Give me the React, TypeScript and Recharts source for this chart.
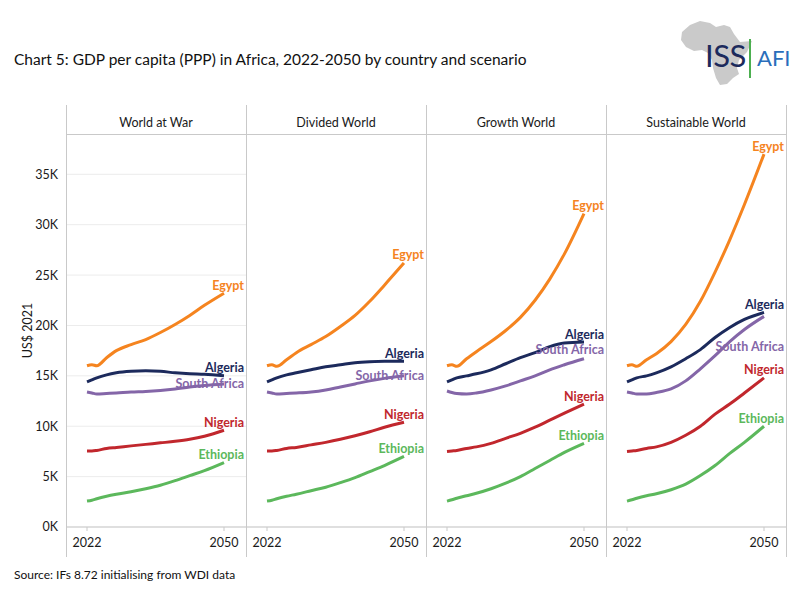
import { LineChart, Line, XAxis, YAxis, CartesianGrid, LabelList } from 'recharts';

const years = [2022, 2023, 2024, 2026, 2028, 2031, 2034, 2037, 2040, 2043, 2046, 2050];
const scenarios = ['World at War', 'Divided World', 'Growth World', 'Sustainable World'];
const countries = ['Egypt', 'Algeria', 'South Africa', 'Nigeria', 'Ethiopia'];
const yTicks = [0, 5000, 10000, 15000, 20000, 25000, 30000, 35000];
const xTicks = [2022, 2050];

// GDP per capita, thousand US$ 2021 (PPP)
const warEgypt = [16.0, 16.1, 16.0, 16.8, 17.5, 18.1, 18.6, 19.3, 20.1, 21.0, 22.0, 23.2];
const warAlgeria = [14.4, 14.6, 14.8, 15.1, 15.3, 15.45, 15.5, 15.45, 15.3, 15.2, 15.15, 15.0];
const warSouthAfrica = [13.4, 13.3, 13.2, 13.25, 13.3, 13.4, 13.45, 13.55, 13.7, 13.9, 14.05, 14.2];
const warNigeria = [7.55, 7.55, 7.6, 7.8, 7.9, 8.05, 8.2, 8.35, 8.5, 8.7, 9.0, 9.6];
const warEthiopia = [2.57, 2.65, 2.8, 3.05, 3.25, 3.5, 3.8, 4.15, 4.6, 5.1, 5.6, 6.4];

const dividedEgypt = [16.0, 16.1, 15.95, 16.6, 17.3, 18.1, 18.9, 19.9, 21.0, 22.4, 24.0, 26.2];
const dividedAlgeria = [14.4, 14.6, 14.8, 15.1, 15.3, 15.6, 15.9, 16.1, 16.3, 16.4, 16.45, 16.45];
const dividedSouthAfrica = [13.4, 13.3, 13.2, 13.25, 13.3, 13.4, 13.6, 13.9, 14.2, 14.5, 14.75, 15.0];
const dividedNigeria = [7.55, 7.55, 7.6, 7.8, 7.9, 8.15, 8.4, 8.7, 9.05, 9.45, 9.9, 10.4];
const dividedEthiopia = [2.57, 2.65, 2.8, 3.05, 3.25, 3.6, 3.95, 4.4, 4.9, 5.5, 6.1, 7.0];

const growthEgypt = [16.0, 16.1, 15.95, 16.7, 17.4, 18.4, 19.5, 20.8, 22.5, 24.6, 27.1, 31.1];
const growthAlgeria = [14.4, 14.6, 14.8, 15.0, 15.2, 15.6, 16.2, 16.8, 17.3, 17.9, 18.25, 18.35];
const growthSouthAfrica = [13.5, 13.35, 13.25, 13.2, 13.3, 13.6, 14.0, 14.5, 15.0, 15.6, 16.1, 16.7];
const growthNigeria = [7.5, 7.55, 7.6, 7.8, 7.95, 8.3, 8.8, 9.3, 9.9, 10.6, 11.3, 12.2];
const growthEthiopia = [2.57, 2.7, 2.85, 3.1, 3.35, 3.8, 4.35, 5.0, 5.8, 6.6, 7.4, 8.3];

const sustEgypt = [16.0, 16.1, 15.95, 16.6, 17.2, 18.4, 20.1, 22.4, 25.3, 28.5, 32.0, 37.0];
const sustAlgeria = [14.4, 14.6, 14.8, 15.0, 15.3, 15.9, 16.7, 17.6, 18.8, 19.8, 20.6, 21.3];
const sustSouthAfrica = [13.4, 13.3, 13.2, 13.2, 13.35, 13.7, 14.5, 15.7, 17.0, 18.4, 19.6, 20.9];
const sustNigeria = [7.5, 7.55, 7.6, 7.8, 7.95, 8.4, 9.1, 10.0, 11.2, 12.2, 13.3, 14.8];
const sustEthiopia = [2.57, 2.7, 2.85, 3.1, 3.3, 3.7, 4.25, 5.1, 6.1, 7.3, 8.4, 10.0];

const seriesByScenario: Record<string, number[][]> = {
  'World at War': [warEgypt, warAlgeria, warSouthAfrica, warNigeria, warEthiopia],
  'Divided World': [dividedEgypt, dividedAlgeria, dividedSouthAfrica, dividedNigeria, dividedEthiopia],
  'Growth World': [growthEgypt, growthAlgeria, growthSouthAfrica, growthNigeria, growthEthiopia],
  'Sustainable World': [sustEgypt, sustAlgeria, sustSouthAfrica, sustNigeria, sustEthiopia],
};

const colors: Record<string, string> = {
  Egypt: '#F5841F',
  Algeria: '#1C2A5C',
  'South Africa': '#8466A8',
  Nigeria: '#C1272D',
  Ethiopia: '#5CB85C',
};

// vertical nudge of the end labels, px
const labelDy = (scenario: string, country: string) => {
  if (country === 'South Africa') {
    if (scenario === 'Growth World') return -9;
    if (scenario === 'Sustainable World') return 30;
    return 0;
  }
  return -8;
};

const FONT = 'Lato, "Open Sans", sans-serif';
const BORDER = '#c9c9c9';

function buildRows(scenario: string) {
  const series = seriesByScenario[scenario];
  return years.map((year, i) => {
    const row: Record<string, number> = { year };
    countries.forEach((c, j) => {
      row[c] = series[j][i] * 1000;
    });
    return row;
  });
}

function Panel({ scenario, index }: { scenario: string; index: number }) {
  const first = index === 0;
  const left = first ? 0 : 66 + 180 * index;
  const width = first ? 246 : 180;
  const rows = buildRows(scenario);

  return (
    <div style={{ position: 'absolute', left, top: 134 }}>
      <LineChart width={width} height={423} data={rows} margin={{ top: 0, right: 0, bottom: 0, left: 0 }}>
        <CartesianGrid vertical={false} stroke="#ececec" />
        <XAxis
          dataKey="year"
          type="number"
          domain={[2022, 2050]}
          ticks={xTicks}
          padding={{ left: 21, right: 22 }}
          height={30}
          stroke={BORDER}
          tickSize={4}
          tickMargin={7}
          tick={{ fill: '#1a1a1a', fontSize: 12.5, fontFamily: FONT }}
        />
        <YAxis
          domain={[0, 39000]}
          ticks={yTicks}
          width={first ? 66 : 0}
          axisLine={false}
          tickLine={false}
          tickSize={0}
          tickMargin={8}
          tick={first ? { fill: '#1a1a1a', fontSize: 12.5, fontFamily: FONT } : false}
          tickFormatter={(v: number) => `${v / 1000}K`}
          label={
            first
              ? { value: 'US$ 2021', angle: -90, position: 'center', dx: -5, fill: '#1a1a1a', fontSize: 12.5, fontFamily: FONT }
              : undefined
          }
        />
        {countries.map(c => (
          <Line
            key={c}
            type="monotone"
            dataKey={c}
            stroke={colors[c]}
            strokeWidth={3}
            dot={false}
            activeDot={false}
            isAnimationActive={false}
          >
            <LabelList
              dataKey={c}
              content={(p: any) =>
                p.index === years.length - 1 ? (
                  <text
                    x={p.x + 20}
                    y={p.y + labelDy(scenario, c)}
                    textAnchor="end"
                    dominantBaseline="central"
                    fill={colors[c]}
                    fontWeight={700}
                    fontSize={12.5}
                    fontFamily={FONT}
                  >
                    {c}
                  </text>
                ) : null
              }
            />
          </Line>
        ))}
      </LineChart>
    </div>
  );
}

function Logo() {
  return (
    <div style={{ position: 'absolute', left: 680, top: 20, width: 115, height: 66 }}>
      <svg width={74} height={66} style={{ position: 'absolute', left: 0, top: 0 }}>
        <path
          d="M10 5 L20 1 L30 3 L36 7 L44 5 L50 7 L54 14 L60 22 L72 21 L67 32 L59 40 L57 48 L59 54 L53 58 L47 64 L40 65 L36 58 L33 48 L32 40 L28 33 L22 30 L14 31 L6 27 L1 20 L2 12 Z"
          fill="#cacaca"
        />
      </svg>
      <div
        style={{
          position: 'absolute',
          left: 25,
          top: 20,
          fontFamily: FONT,
          fontSize: 31,
          lineHeight: '31px',
          color: '#1C2A5C',
          letterSpacing: -0.5,
        }}
      >
        ISS
      </div>
      <div style={{ position: 'absolute', left: 69, top: 19, width: 2, height: 39, background: '#4CAF50' }} />
      <div
        style={{
          position: 'absolute',
          left: 77,
          top: 27,
          fontFamily: FONT,
          fontSize: 22,
          lineHeight: '22px',
          color: '#2A6EBB',
        }}
      >
        AFI
      </div>
    </div>
  );
}

export default function App() {
  return (
    <div
      style={{
        position: 'absolute',
        left: 0,
        top: 0,
        width: 799,
        height: 599,
        background: '#fff',
        fontFamily: FONT,
        overflow: 'hidden',
      }}
    >
      <div style={{ position: 'absolute', left: 14, top: 50, fontSize: 15.5, color: '#111', whiteSpace: 'nowrap' }}>
        Chart 5: GDP per capita (PPP) in Africa, 2022-2050 by country and scenario
      </div>
      <Logo />

      {scenarios.map((s, i) => (
        <Panel key={s} scenario={s} index={i} />
      ))}

      {scenarios.map((s, i) => (
        <div
          key={s}
          style={{
            position: 'absolute',
            left: 66 + 180 * i,
            top: 105,
            width: 180,
            height: 29,
            lineHeight: '36px',
            textAlign: 'center',
            fontSize: 12.5,
            color: '#1a1a1a',
          }}
        >
          {s}
        </div>
      ))}
      <div style={{ position: 'absolute', left: 66, top: 134, width: 720, height: 1, background: BORDER }} />
      {[0, 1, 2, 3, 4].map(i => (
        <div
          key={i}
          style={{ position: 'absolute', left: 66 + 180 * i, top: 105, width: 1, height: 452, background: BORDER }}
        />
      ))}

      <div style={{ position: 'absolute', left: 14, top: 567, fontSize: 12, color: '#111', whiteSpace: 'nowrap' }}>
        Source: IFs 8.72 initialising from WDI data
      </div>
    </div>
  );
}
